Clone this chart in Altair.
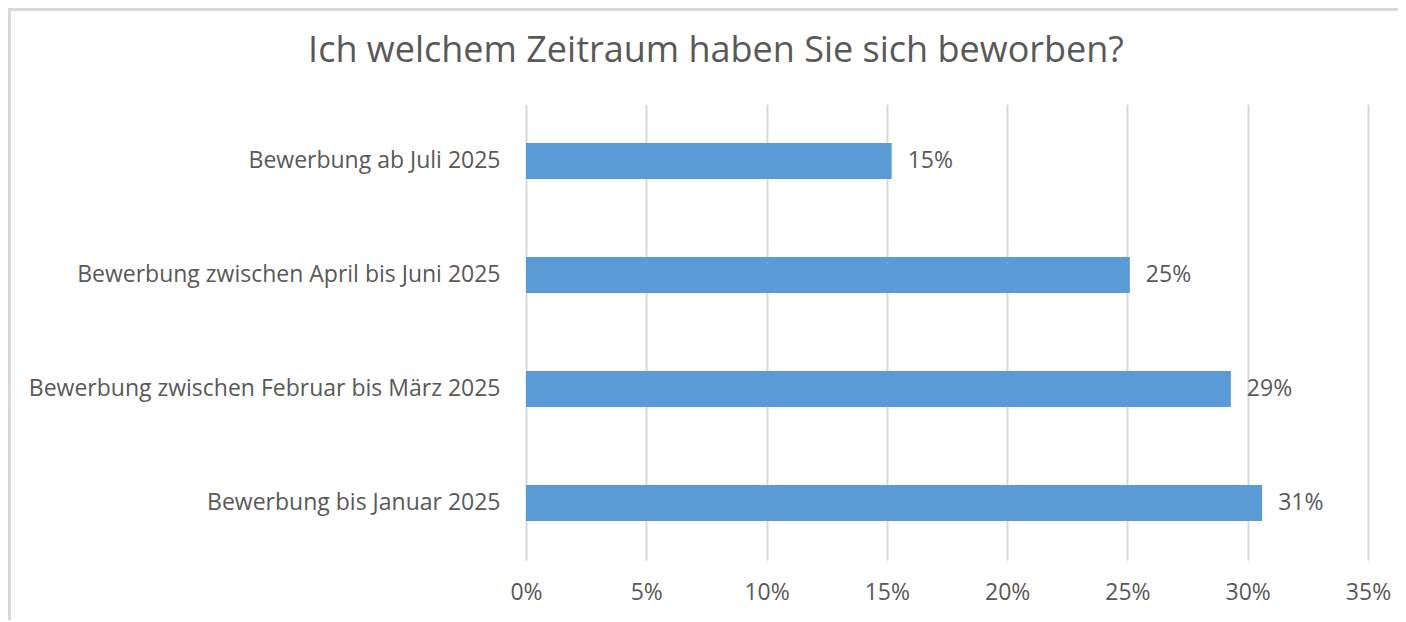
import altair as alt
import pandas as pd

categories = [
    "Bewerbung ab Juli 2025",
    "Bewerbung zwischen April bis Juni 2025",
    "Bewerbung zwischen Februar bis März 2025",
    "Bewerbung bis Januar 2025",
]
values = [0.152, 0.251, 0.293, 0.306]
x_ticks = [0, 0.05, 0.10, 0.15, 0.20, 0.25, 0.30, 0.35]
title_text = "Ich welchem Zeitraum haben Sie sich beworben?"

df = pd.DataFrame({"cat": categories, "val": values})

FONT = "Open Sans"
GREY = "#595959"
FS = 23

x = alt.X(
    "val:Q",
    scale=alt.Scale(domain=[0, 0.35], nice=False),
    axis=alt.Axis(
        values=x_ticks, format=".0%", title=None, grid=True, gridColor="#d9d9d9",
        gridWidth=2, domain=False, ticks=False, labelFont=FONT, labelFontSize=FS,
        labelColor=GREY, labelPadding=21, labelFlush=False,
    ),
)
y = alt.Y(
    "cat:N",
    sort=categories,
    scale=alt.Scale(paddingInner=0.685, paddingOuter=0.3425),
    axis=alt.Axis(
        title=None, domain=False, ticks=False, labelFont=FONT, labelFontSize=FS,
        labelColor=GREY, labelPadding=26, labelLimit=600,
    ),
)

bars = alt.Chart(df).mark_bar(color="#5b9bd5").encode(x=x, y=y)
labels = alt.Chart(df).mark_text(
    align="left", baseline="middle", dx=16, font=FONT, fontSize=FS, color=GREY
).encode(x="val:Q", y=alt.Y("cat:N", sort=categories), text=alt.Text("val:Q", format=".0%"))

title = alt.Chart(pd.DataFrame({"t": [title_text]})).mark_text(
    align="center", baseline="alphabetic", font=FONT, fontSize=36, color=GREY
).encode(x=alt.value(190), y=alt.value(-42), text="t:N")

frame_left = alt.Chart(df).mark_rule(color="#d9d9d9", strokeWidth=3).encode(
    x=alt.value(-517), y=alt.value(-95), y2=alt.value(520)
)
frame_top = alt.Chart(df).mark_rule(color="#d9d9d9", strokeWidth=3).encode(
    x=alt.value(-518), x2=alt.value(880), y=alt.value(-95)
)

chart = alt.layer(bars, labels, title, frame_left, frame_top).properties(
    width=842,
    height=456,
    autosize=alt.AutoSizeParams(type="none"),
    padding={"left": 518, "top": 96, "right": 30, "bottom": 60},
).configure_view(stroke=None)

chart.save("out.html", embed_options={"renderer": "svg", "actions": False})
